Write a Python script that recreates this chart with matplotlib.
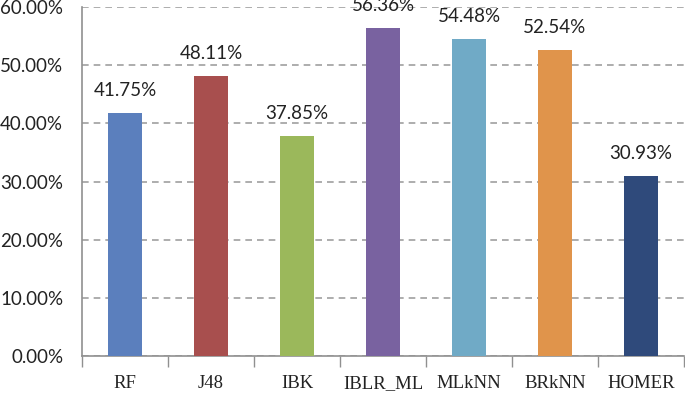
import numpy as np
import matplotlib.pyplot as plt

methods = ['RF', 'J48', 'IBK', 'IBLR_ML', 'MLkNN', 'BRkNN', 'HOMER']
scores = [41.75, 48.11, 37.85, 56.36, 54.48, 52.54, 30.93]
colors = ['#5B7FBD', '#A84F4E', '#9BB85B', '#7962A0', '#70AAC6', '#E0944B', '#2F4A7B']

fig = plt.figure(figsize=(6.85, 3.94), dpi=100)
ax = fig.add_axes([0.1197, 0.0964, 0.8788, 0.8858])

x = np.arange(len(methods))
ax.bar(x, scores, width=0.4, color=colors, zorder=3)

# value labels above each bar
for xi, v in zip(x, scores):
    ax.text(xi, v + 2.4, '%.2f%%' % v, ha='center', va='bottom',
            fontsize=13.5, family='Lato', color='#222222', clip_on=False)

ax.set_xlim(-0.5, len(methods) - 0.5)
ax.set_ylim(0, 60)
ax.set_yticks(np.arange(0, 61, 10))
ax.set_yticklabels(['%.2f%%' % t for t in np.arange(0, 61, 10)],
                   fontsize=13.5, family='Lato', color='#222222')
ax.yaxis.grid(True, linestyle=(0, (4, 3)), color='#A0A0A0', linewidth=1.2, zorder=0)

# category ticks sit between the bars
ax.set_xticks(x)
ax.set_xticklabels(methods, fontsize=13.5, family='Liberation Serif', color='#222222')
ax.tick_params(axis='x', length=0, pad=13.5)
ax.set_xticks(np.arange(-0.5, len(methods)), minor=True)
ax.tick_params(axis='x', which='minor', length=8, color='#909090', width=1)
ax.tick_params(axis='y', length=0, pad=13.5)

for s in ['top', 'right']:
    ax.spines[s].set_visible(False)
for s in ['left', 'bottom']:
    ax.spines[s].set_color('#909090')
    ax.spines[s].set_linewidth(1.2)

plt.savefig('out.png', dpi=100)
